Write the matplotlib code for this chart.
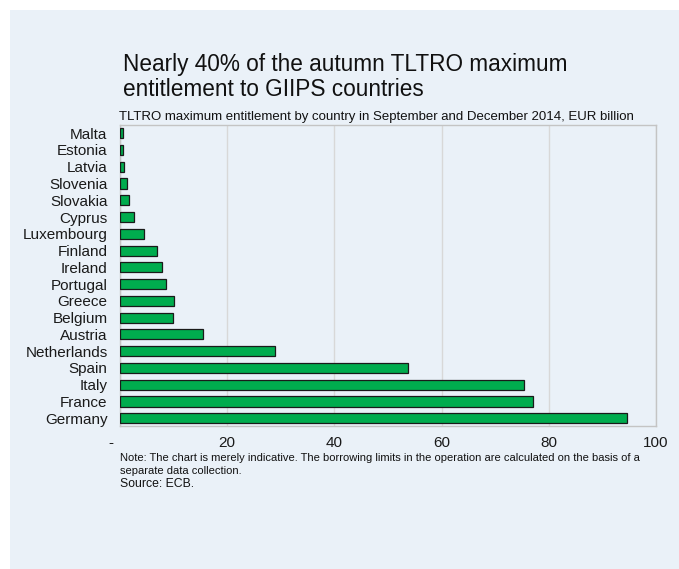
import numpy as np
import matplotlib.pyplot as plt
from matplotlib.patches import Rectangle

plt.rcParams['font.family'] = ['Liberation Sans', 'DejaVu Sans']

# countries, top to bottom as in the chart
countries = ['Malta', 'Estonia', 'Latvia', 'Slovenia', 'Slovakia', 'Cyprus',
             'Luxembourg', 'Finland', 'Ireland', 'Portugal', 'Greece', 'Belgium',
             'Austria', 'Netherlands', 'Spain', 'Italy', 'France', 'Germany']
# EUR billion
values = [0.5, 0.6, 0.7, 1.3, 1.6, 2.6,
          4.4, 6.9, 7.8, 8.5, 10.0, 9.9,
          15.4, 29.0, 53.8, 75.3, 77.0, 94.6]
xticks = [0, 20, 40, 60, 80, 100]
xticklabels = ['-    ', '20', '40', '60', '80', '100']

bg = '#EAF1F8'

fig = plt.figure(figsize=(6.79, 5.69), dpi=100)
fig.patch.set_facecolor('white')
fig.patches.append(Rectangle((10/679, 0), 1, 1 - 10/569, transform=fig.transFigure,
                             facecolor=bg, edgecolor='none', zorder=-10))

ax = fig.add_axes([120/679, 1 - 426/569, 536/679, 301.5/569])
ax.set_facecolor(bg)

# first country at top
y = np.arange(len(countries))[::-1]
ax.barh(y, values, height=0.6, color='#00AC4E', edgecolor='#1a1a1a', linewidth=0.9, zorder=3)

ax.set_xlim(0, 100)
ax.set_ylim(-0.46, 17.52)
ax.set_yticks(y)
ax.set_yticklabels(countries, fontsize=11, color='#1a1a1a')
ax.set_xticks(xticks)
ax.set_xticklabels(xticklabels, fontsize=11, color='#1a1a1a')
ax.tick_params(axis='y', length=0, pad=9)
ax.tick_params(axis='x', length=0, pad=7)
ax.xaxis.grid(True, color='#d8d8d8', linewidth=1, zorder=0)
for s in ax.spines.values():
    s.set_color('#c4c4c4')
    s.set_linewidth(1)

fig.text(123/679, 1 - 77.3/569,
         'Nearly 40% of the autumn TLTRO maximum\nentitlement to GIIPS countries',
         fontsize=16.3, va='center', ha='left', linespacing=1.1, color='#111111')
fig.text(119/679, 1 - 117/569,
         'TLTRO maximum entitlement by country in September and December 2014, EUR billion',
         fontsize=9.5, va='center', ha='left', color='#111111')
fig.text(120/679, 1 - 464.5/569,
         'Note: The chart is merely indicative. The borrowing limits in the operation are calculated on the basis of a\nseparate data collection.',
         fontsize=8, va='center', ha='left', linespacing=1.4, color='#111111')
fig.text(120/679, 1 - 484/569, 'Source: ECB.', fontsize=8.8, va='center', ha='left', color='#111111')

plt.savefig('out.png', dpi=100, facecolor=fig.get_facecolor())
